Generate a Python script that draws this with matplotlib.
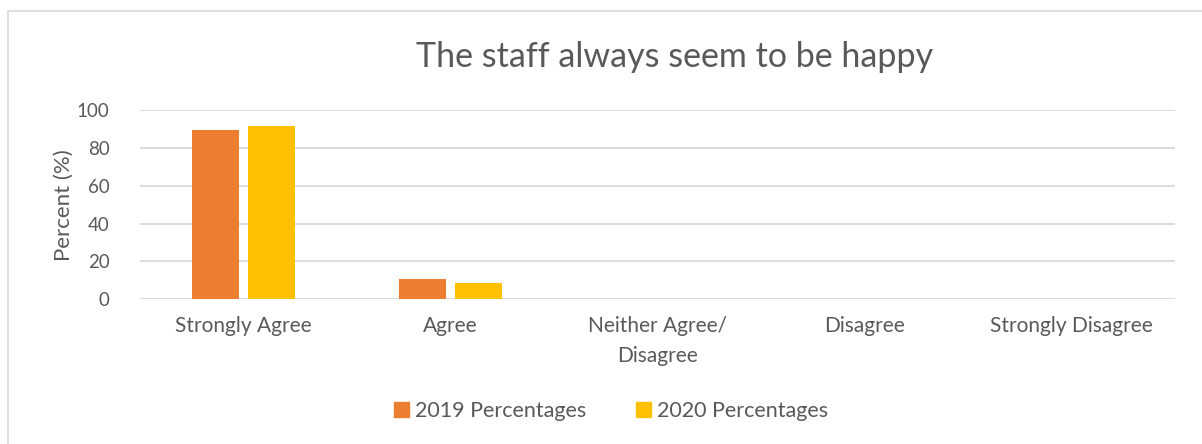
import matplotlib.pyplot as plt
import matplotlib.patches as mpatches
import numpy as np

plt.rcParams['font.family'] = ['Lato', 'DejaVu Sans']

categories = ["Strongly Agree", "Agree", "Neither Agree/\nDisagree", "Disagree", "Strongly Disagree"]
pct_2019 = [89.3, 10.6, 0, 0, 0]
pct_2020 = [91.4, 8.5, 0, 0, 0]
series_names = ["2019 Percentages", "2020 Percentages"]
colors = ["#ED7D31", "#FFC000"]
text_color = "#595959"

fig = plt.figure(figsize=(12.02, 4.44), dpi=100)
ax = fig.add_axes([140 / 1202, 1 - 299.3 / 444, 1035 / 1202, 189.3 / 444])

# chart border (only top/left visible in the crop)
fig.patches.append(mpatches.Rectangle((8 / 1202, -0.05), 1.2, 1 - 11 / 444 + 0.05,
                                      transform=fig.transFigure, fill=False,
                                      edgecolor="#D9D9D9", linewidth=1.2))

x = np.arange(len(categories))
w = 0.224
off = 0.135
ax.bar(x - off, pct_2019, w, color=colors[0], label=series_names[0])
ax.bar(x + off, pct_2020, w, color=colors[1], label=series_names[1])

ax.set_xlim(-0.5, len(categories) - 0.5)
ax.set_ylim(0, 100)
ax.set_yticks(np.arange(0, 101, 20))
ax.set_xticks(x)
ax.set_xticklabels(categories, fontsize=15, color=text_color, linespacing=1.6)
ax.tick_params(axis='y', labelsize=13.5, labelcolor=text_color, length=0, pad=22)
ax.tick_params(axis='x', length=0, pad=12)
ax.grid(axis='y', color="#D9D9D9", linewidth=1.3)
ax.set_axisbelow(True)
for s in ax.spines.values():
    s.set_visible(False)

ax.set_ylabel("Percent (%)", fontsize=16, color=text_color, labelpad=2)
fig.text(675 / 1202, 1 - 57 / 444, "The staff always seem to be happy",
         fontsize=24.5, color=text_color, ha='center', va='center')

handles = [mpatches.Patch(color=c) for c in colors]
fig.legend(handles, series_names, loc='center', bbox_to_anchor=(611 / 1202, 1 - 411 / 444),
           ncol=2, frameon=False, fontsize=15.5, labelcolor=text_color,
           handlelength=0.7, handleheight=0.7, handletextpad=0.3, columnspacing=2.3)

fig.savefig("out.png", dpi=100)
